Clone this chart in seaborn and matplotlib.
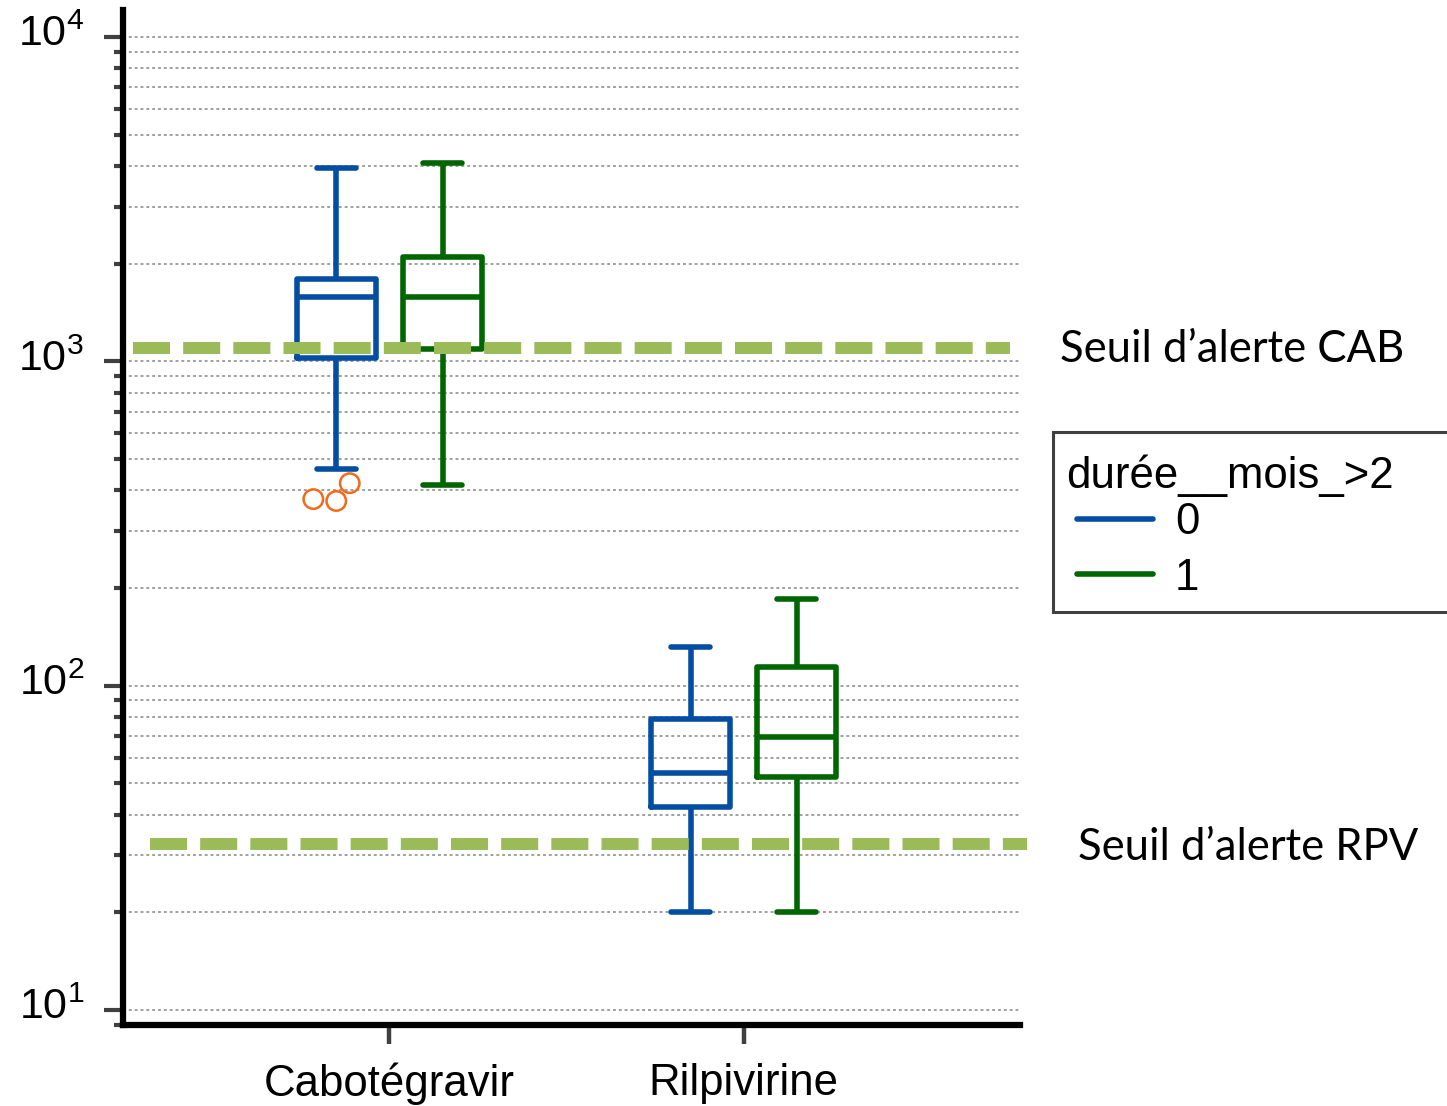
import numpy as np
import pandas as pd
import matplotlib
matplotlib.use("Agg")
import matplotlib.pyplot as plt
import matplotlib.ticker as mticker
import matplotlib.transforms as mtransforms
from matplotlib.lines import Line2D
from matplotlib.legend_handler import HandlerLine2D
import seaborn as sns

# ---------------- data ----------------
drugs = ["Cabotégravir", "Rilpivirine"]
groups = ["0", "1"]
# five-number summaries: low whisker, Q1, median, Q3, high whisker
cab_g0 = [467, 1022, 1583, 1795, 3940]
cab_g1 = [416, 1090, 1583, 2103, 4100]
rpv_g0 = [20, 42.4, 53.9, 78.8, 132]
rpv_g1 = [20, 52.4, 69.6, 114, 185]
outliers_cab_g0 = [421, 371, 376]
seuil_cab = 1100
seuil_rpv = 32.5
seuil_labels = ["Seuil d\u2019alerte CAB", "Seuil d\u2019alerte RPV"]
legend_title = "durée__mois_>2"

colors = ["#034ea2", "#006600"]
outlier_color = "#f26a1b"
seuil_color = "#9bbb59"

rows = []
for drug, g, vals in [(drugs[0], groups[0], cab_g0), (drugs[0], groups[1], cab_g1),
                      (drugs[1], groups[0], rpv_g0), (drugs[1], groups[1], rpv_g1)]:
    for v in vals:
        rows.append({"molecule": drug, "groupe": g, "conc": v})
df = pd.DataFrame(rows)
out_df = pd.DataFrame({"molecule": [drugs[0]] * len(outliers_cab_g0),
                       "groupe": [groups[0]] * len(outliers_cab_g0),
                       "conc": outliers_cab_g0})

# ---------------- style ----------------
sns.set_theme(style="white")
plt.rcParams["font.family"] = ["Liberation Sans", "DejaVu Sans"]
plt.rcParams["mathtext.fontset"] = "custom"
plt.rcParams["mathtext.rm"] = "Liberation Sans"
plt.rcParams["mathtext.it"] = "Liberation Sans:italic"
plt.rcParams["mathtext.bf"] = "Liberation Sans:bold"
plt.rcParams["text.color"] = "black"

W, H = 1447, 1106
fig = plt.figure(figsize=(W / 100, H / 100), dpi=100)
ax = fig.add_axes([123 / W, 1 - 1025 / H, (1020 - 123) / W, (1025 - 10) / H])
ax.set_yscale("log")

sns.boxplot(data=df, x="molecule", y="conc", hue="groupe", order=drugs, hue_order=groups,
            palette=colors, saturation=1, fill=False, width=0.6, gap=0.26,
            whis=(0, 100), linewidth=4.0, showfliers=False, legend=False, ax=ax)
n_before = len(ax.collections)
sns.swarmplot(data=out_df, x="molecule", y="conc", hue="groupe", order=drugs, hue_order=groups,
              palette=[outlier_color, outlier_color], dodge=True, size=14, legend=False, ax=ax)
# swarmplot dodges by 0.2 (width .8); boxes are dodged by 0.15 (width .6)
shift = mtransforms.Affine2D().translate(0.05, 0)
for coll in ax.collections[n_before:]:
    coll.set_facecolor("none")
    coll.set_edgecolor(outlier_color)
    coll.set_linewidth(1.8)
    coll.set_zorder(4)
    coll.set_offset_transform(shift + ax.transData)

# threshold lines
trans = mtransforms.blended_transform_factory(ax.transAxes, ax.transData)
ax.plot([10 / 897, 887 / 897], [seuil_cab] * 2, transform=trans, color=seuil_color, lw=8.6,
        ls=(0, (3.1, 1.1)), dash_capstyle="butt", clip_on=False, zorder=6)
ax.plot([27 / 897, 904 / 897], [seuil_rpv] * 2, transform=trans, color=seuil_color, lw=8.6,
        ls=(0, (3.1, 1.1)), dash_capstyle="butt", clip_on=False, zorder=6)

# axes
ax.set_ylim(8.99, 12110)
ax.set_xlim(-0.752, 1.78)
ax.yaxis.set_major_locator(mticker.LogLocator(base=10, numticks=10))
ax.yaxis.set_minor_locator(mticker.LogLocator(base=10, subs=np.arange(2, 10), numticks=20))
ax.yaxis.set_major_formatter(mticker.LogFormatterMathtext())
ax.yaxis.set_minor_formatter(mticker.NullFormatter())
ax.grid(False)
ax.grid(which="both", axis="y", color="#a0a0a0", ls=(0, (1.5, 1.5)), lw=1.4, zorder=0)
ax.set_axisbelow(True)
ax.set_xlabel("")
ax.set_ylabel("")

ax.tick_params(axis="y", which="major", left=True, length=14, width=3, color="#404040",
               direction="out", labelsize=31, pad=14, labelcolor="black")
ax.tick_params(axis="y", which="minor", left=True, length=6.5, width=3, color="#404040",
               direction="out")
ax.tick_params(axis="x", bottom=True, length=14, width=3.2, color="#404040",
               direction="out", labelsize=31.5, pad=13, labelcolor="black")
for s in ["top", "right"]:
    ax.spines[s].set_visible(False)
for s in ["left", "bottom"]:
    ax.spines[s].set_linewidth(4.5)
    ax.spines[s].set_color("black")

up = mtransforms.ScaledTranslation(0, 4.5 / 72, fig.dpi_scale_trans)
for lab in ax.get_yticklabels():
    lab.set_transform(lab.get_transform() + up)

# legend
handles = [Line2D([0], [0], color=c, lw=4.0) for c in colors]
leg = fig.legend(handles, groups, title=legend_title, loc="upper left",
                 bbox_to_anchor=(1053 / W, 1 - 612 / H, 0.3, (612 - 432) / H), mode="expand",
                 fontsize=31.5, title_fontsize=31.5, alignment="left", frameon=True, fancybox=False,
                 edgecolor="#404040", framealpha=1, borderpad=0.3, labelspacing=0.33,
                 handlelength=1.99, handletextpad=0.5, borderaxespad=0,
                 handler_map={Line2D: HandlerLine2D(xpad=0.25)})
leg.get_frame().set_linewidth(2.2)
leg.get_title().set_position((0, -9))

# threshold labels
fig.text(1060 / W, 1 - 362 / H, seuil_labels[0], fontsize=31.4, family=["Lato", "DejaVu Sans"],
         va="baseline", ha="left")
fig.text(1078 / W, 1 - 860 / H, seuil_labels[1], fontsize=31.4, family=["Lato", "DejaVu Sans"],
         va="baseline", ha="left")

fig.savefig("out.png", dpi=100)
